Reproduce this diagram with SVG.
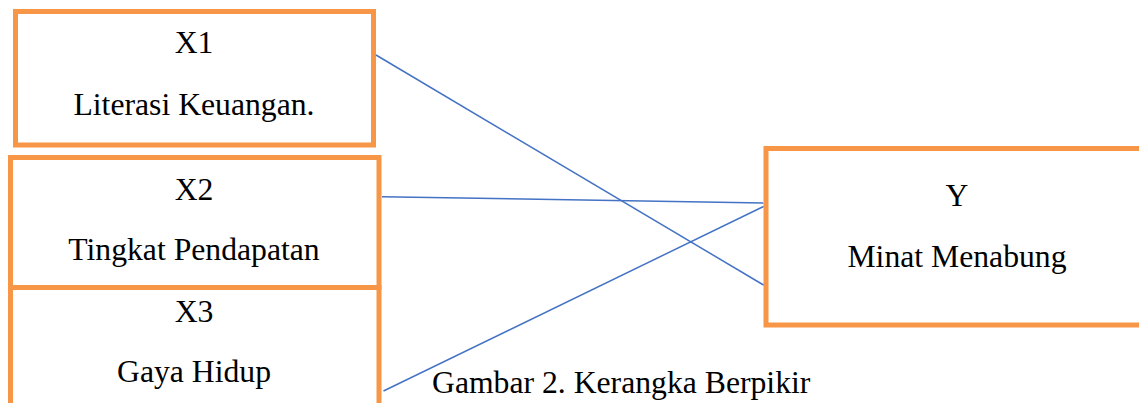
<svg xmlns="http://www.w3.org/2000/svg" width="1139" height="403" viewBox="0 0 1139 403">
<style>
.box{fill:#FFFFFF;stroke:#F79646;stroke-width:5}
.t{font-family:"Liberation Serif","Times New Roman",serif;font-size:31.7px;fill:#000000;text-anchor:middle}
.c{fill:none;stroke:#4472C4;stroke-width:1.5}
</style>
<rect width="1139" height="403" fill="#FFFFFF"/>
<g id="x1">
<rect class="box" x="15.5" y="11.5" width="358" height="133.5"/>
<text class="t" x="194" y="53">X1</text>
<text class="t" x="194" y="115">Literasi Keuangan.</text>
</g>
<g id="x2">
<rect class="box" x="10.5" y="157.5" width="368.5" height="130"/>
<text class="t" x="194" y="200">X2</text>
<text class="t" x="194" y="260">Tingkat Pendapatan</text>
</g>
<g id="x3">
<rect class="box" x="10.5" y="287.5" width="368.5" height="140"/>
<text class="t" x="194" y="322">X3</text>
<text class="t" x="194" y="382">Gaya Hidup</text>
</g>
<g id="y">
<rect class="box" x="766" y="148.5" width="390" height="176.5"/>
<text class="t" x="957" y="206">Y</text>
<text class="t" x="957" y="267">Minat Menabung</text>
</g>
<g id="connectors">
<line class="c" x1="376" y1="55" x2="763.5" y2="285"/>
<line class="c" x1="382" y1="196.7" x2="763.5" y2="203"/>
<line class="c" x1="383.5" y1="391" x2="763.5" y2="206.5"/>
</g>
<text class="t" x="432" y="393" style="text-anchor:start">Gambar 2. Kerangka Berpikir</text>
</svg>
